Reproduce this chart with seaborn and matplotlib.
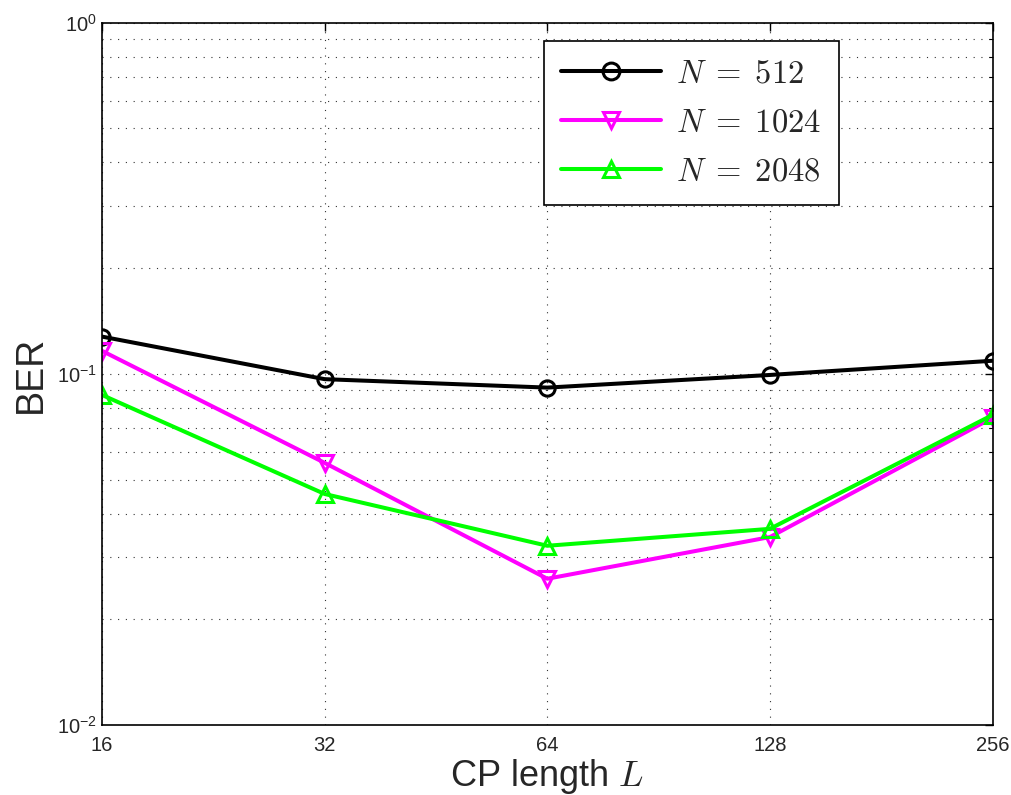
import matplotlib
matplotlib.use("Agg")
import matplotlib.pyplot as plt
import matplotlib.ticker as mticker
import seaborn as sns
import numpy as np
import pandas as pd

cp_length = [16, 32, 64, 128, 256]
ber_512 = [0.1277, 0.0966, 0.0914, 0.0993, 0.109]
ber_1024 = [0.1163, 0.0558, 0.0261, 0.0343, 0.075]
ber_2048 = [0.0871, 0.0455, 0.0324, 0.0362, 0.0764]
series_labels = [r"$N\;=\;512$", r"$N\;=\;1024$", r"$N\;=\;2048$"]

sns.set_style("white")
plt.rcParams['font.family'] = ['Liberation Sans', 'DejaVu Sans']
plt.rcParams['mathtext.fontset'] = 'cm'

fig = plt.figure(figsize=(10.12, 7.95), dpi=100)
ax = fig.add_axes([0.1008, 0.088, 0.880, 0.8834])

styles = [
    (ber_512, 'black', 'o'),
    (ber_1024, '#ff00ff', 'v'),
    (ber_2048, '#00ff00', '^'),
]
for (vals, col, mk), lab in zip(styles, series_labels):
    df = pd.DataFrame({"L": cp_length, "BER": vals})
    sns.lineplot(data=df, x="L", y="BER", ax=ax, color=col, marker=mk,
                 markersize=11, markerfacecolor='none', markeredgecolor=col,
                 markeredgewidth=2.2, linewidth=2.9, label=lab)

ax.set_xscale('log', base=2)
ax.set_yscale('log')
ax.set_xlim(16, 256)
ax.set_ylim(1e-2, 1)
ax.set_xticks(cp_length)
ax.xaxis.set_major_formatter(mticker.FixedFormatter([str(v) for v in cp_length]))
ax.xaxis.set_minor_locator(mticker.NullLocator())
ax.set_yticks([1e-2, 1e-1, 1])
ax.yaxis.set_major_formatter(mticker.FixedFormatter(
    [r'$\mathregular{10^{-2}}$', r'$\mathregular{10^{-1}}$', r'$\mathregular{10^{0}}$']))
ax.yaxis.set_minor_locator(mticker.LogLocator(base=10, subs=np.arange(2, 10)))
ax.yaxis.set_minor_formatter(mticker.NullFormatter())

ax.tick_params(axis='both', which='both', direction='in', top=True, right=True,
               labelsize=14.5, color='black')
ax.tick_params(which='major', length=6, width=1)
ax.tick_params(which='minor', length=3, width=0.8)
ax.tick_params(axis='x', pad=8)

ax.grid(True, which='major', linestyle=(0, (1, 6)), color='#333333', linewidth=0.8)
ax.grid(True, which='minor', axis='y', linestyle=(0, (1, 6)), color='#333333', linewidth=0.8)

for s in ax.spines.values():
    s.set_color('black')
    s.set_linewidth(1.2)

ax.set_xlabel(r"CP length $L$", fontsize=26, labelpad=1)
ax.set_ylabel("BER", fontsize=27, labelpad=6)

leg = ax.legend(loc='upper right', bbox_to_anchor=(0.829, 0.949),
                bbox_transform=fig.transFigure, fontsize=23.5, handlelength=3.05,
                frameon=True, fancybox=False, framealpha=1, edgecolor='black',
                borderpad=0.55, labelspacing=0.55, handletextpad=0.45,
                borderaxespad=0, markerscale=1.1)
leg.get_frame().set_linewidth(1.2)

fig.savefig("out.png", dpi=100)
